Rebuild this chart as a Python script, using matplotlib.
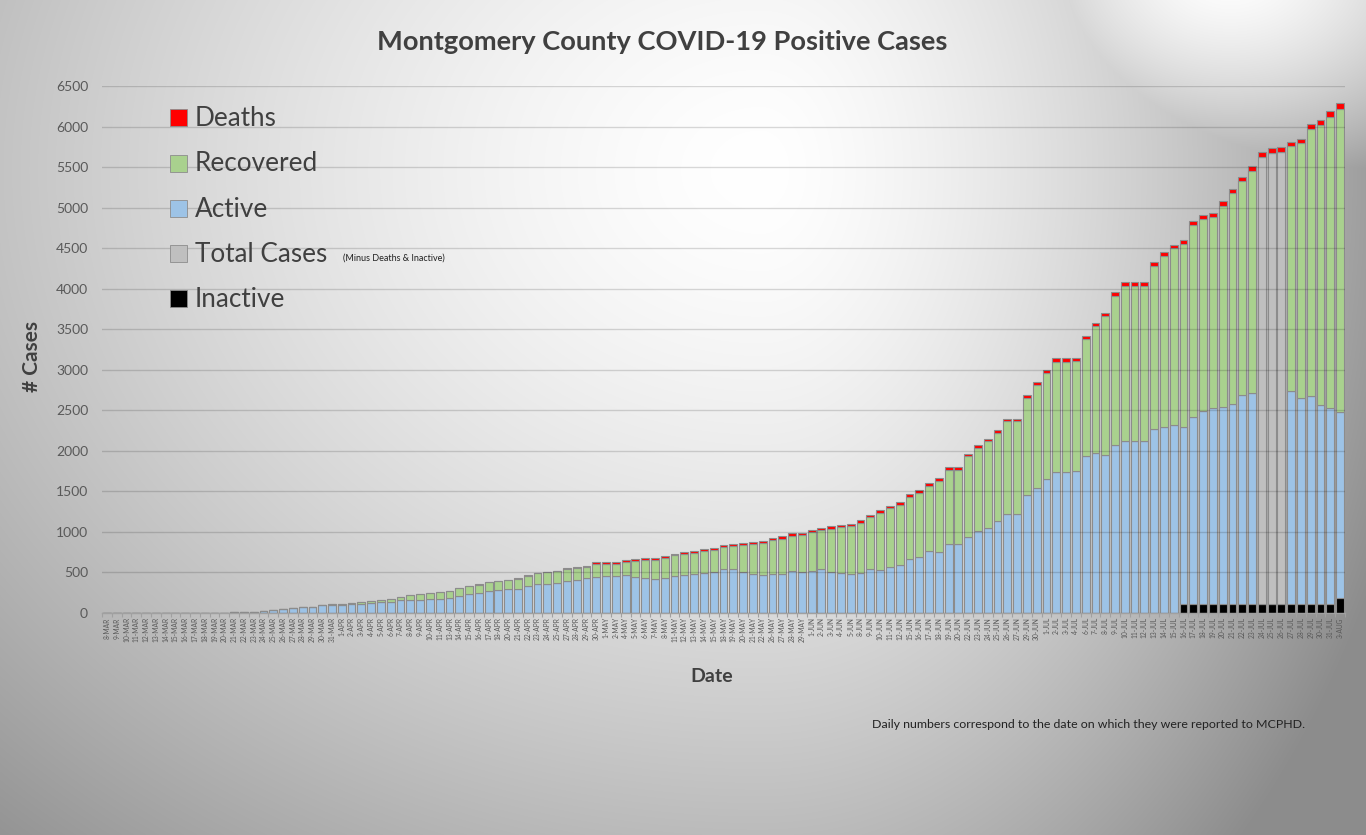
import numpy as np
import matplotlib
matplotlib.use("Agg")
import matplotlib.pyplot as plt
from matplotlib.patches import Rectangle

plt.rcParams['font.family'] = ['Lato', 'DejaVu Sans']

# ---------------- data ----------------
dates = [
    "8-MAR", "9-MAR", "10-MAR", "11-MAR", "12-MAR", "13-MAR", "14-MAR", "15-MAR", "16-MAR", "17-MAR",
    "18-MAR", "19-MAR", "20-MAR", "21-MAR", "22-MAR", "23-MAR", "24-MAR", "25-MAR", "26-MAR", "27-MAR",
    "28-MAR", "29-MAR", "30-MAR", "31-MAR",
    "1-APR", "2-APR", "3-APR", "4-APR", "5-APR", "6-APR", "7-APR", "8-APR", "9-APR", "10-APR", "11-APR",
    "13-APR", "14-APR", "15-APR", "16-APR", "17-APR", "18-APR",
    "20-APR", "21-APR", "22-APR", "23-APR", "24-APR", "25-APR",
    "27-APR", "28-APR", "29-APR", "30-APR",
    "1-MAY", "2-MAY", "4-MAY", "5-MAY", "6-MAY", "7-MAY", "8-MAY",
    "11-MAY", "12-MAY", "13-MAY", "14-MAY", "15-MAY",
    "18-MAY", "19-MAY", "20-MAY", "21-MAY", "22-MAY",
    "26-MAY", "27-MAY", "28-MAY", "29-MAY",
    "1-JUN", "2-JUN", "3-JUN", "4-JUN", "5-JUN",
    "8-JUN", "9-JUN", "10-JUN", "11-JUN", "12-JUN",
    "15-JUN", "16-JUN", "17-JUN", "18-JUN", "19-JUN", "20-JUN",
    "22-JUN", "23-JUN", "24-JUN", "25-JUN", "26-JUN", "27-JUN",
    "29-JUN", "30-JUN",
    "1-JUL", "2-JUL", "3-JUL", "4-JUL",
    "6-JUL", "7-JUL", "8-JUL", "9-JUL", "10-JUL", "11-JUL", "12-JUL", "13-JUL", "14-JUL", "15-JUL",
    "16-JUL", "17-JUL", "18-JUL", "19-JUL", "20-JUL", "21-JUL", "22-JUL", "23-JUL", "24-JUL", "25-JUL",
    "26-JUL", "27-JUL", "28-JUL", "29-JUL", "30-JUL", "31-JUL",
    "3-AUG",
]

inactive = [0] * 110 + [110] * 16 + [180]

active = (
    [0] * 10
    + [2, 3, 4, 12, 14, 17, 30, 40, 52, 64, 80, 78, 95, 100]
    + [95, 111, 111, 123, 132, 140, 156, 156, 156, 169, 169, 185, 206, 230, 243, 267, 280,
       296, 296, 329, 354, 354, 366, 391, 407, 428, 449]
    + [457, 457, 465, 444, 428, 416, 428, 453, 473, 481, 490, 502, 539, 539, 506, 477, 465,
       477, 481, 514, 506]
    + [514, 539, 502, 494, 481, 494, 539, 527, 564, 588, 667, 691, 761, 749, 852, 852, 934,
       1008, 1045, 1132, 1222, 1222, 1453, 1547, 1654]
    + [1741, 1741, 1749, 1940, 1974, 1953, 2074, 2119, 2119, 2119, 2274, 2294, 2319]
    + [2184, 2305, 2380, 2413, 2426, 2468, 2584, 2601]
    + [0, 0, 0]
    + [2634, 2547, 2572, 2455, 2413, 2302]
)

total_cases = [0] * 118 + [5511, 5561, 5582] + [0] * 6

recovered = (
    [0] * 22
    + [3, 12]
    + [20, 12, 25, 25, 28, 33, 40, 60, 77, 76, 88, 88, 100, 100, 108, 112, 111, 111, 128,
       131, 134, 146, 146, 154, 154, 145, 160]
    + [148, 148, 165, 202, 226, 242, 251, 259, 255, 260, 280, 276, 276, 292, 333, 371, 395,
       420, 437, 441, 453]
    + [486, 482, 539, 568, 593, 621, 642, 712, 728, 749, 769, 795, 811, 881, 913, 913, 1000,
       1029, 1074, 1086, 1140, 1140, 1201, 1264, 1305]
    + [1357, 1357, 1357, 1441, 1561, 1707, 1836, 1920, 1920, 1920, 2002, 2107, 2178]
    + [2261, 2374, 2374, 2366, 2490, 2602, 2636, 2740]
    + [0, 0, 0]
    + [3015, 3135, 3285, 3448, 3598, 3731]
)

deaths = (
    [0] * 30
    + [2, 2, 2, 2, 2, 3, 3, 3, 4, 5, 5, 6, 6, 8, 8, 9, 9, 10, 11, 12, 14]
    + [20, 20, 20, 21, 21, 21, 21, 20, 21, 20, 20, 20, 20, 21, 25, 24, 25, 25, 28, 33, 29]
    + [29, 28, 29, 28, 29, 29, 33, 28, 33, 29, 29, 28, 33, 32, 33, 33, 33, 33, 29, 33, 33,
       33, 33, 32, 37]
    + [42, 42, 38, 38, 42, 42, 46, 42, 42, 42, 55, 50, 46]
    + [50, 50, 50, 45, 58, 50, 50, 62]
    + [67, 59, 54]
    + [54, 54, 67, 62, 75, 79]
)

legend_labels = ["Deaths", "Recovered", "Active", "Total Cases", "Inactive"]
legend_colors = ["#FF0000", "#A9D18E", "#9DC3E6", "#BFBFBF", "#000000"]

# ---------------- figure ----------------
W, H = 1366, 835
fig = plt.figure(figsize=(W / 100, H / 100), dpi=100)

# background gradient
bg = fig.add_axes([0, 0, 1, 1], zorder=-10)
yy, xx = np.mgrid[0:H, 0:W]
cx, cy = 760.0, 170.0
sx = np.where(xx < cx, 900.0, 520.0)
sy = 720.0
r = np.sqrt(((xx - cx) / sx) ** 2 + ((yy - cy) / sy) ** 2)
v1 = 1.0 - 0.30 * np.clip(r, 0, 1.6) ** 1.5
r2 = np.sqrt(((xx - 1230.0) / 260.0) ** 2 + ((yy + 30.0) / 190.0) ** 2)
v2 = 1.0 - 0.30 * np.clip(r2, 0, 1.6) ** 1.5
v = np.clip(np.maximum(v1, v2), 0.55, 1.0)
bg.imshow(np.dstack([v, v, v]), aspect='auto', extent=[0, W, H, 0], interpolation='bilinear')
bg.set_xlim(0, W)
bg.set_ylim(H, 0)
bg.axis('off')

ax = fig.add_axes([102 / W, 1 - 613 / H, (1345 - 102) / W, (613 - 86) / H])
ax.patch.set_alpha(0)

x = np.arange(len(dates))
ia = np.array(inactive, float)
ac = np.array(active, float)
tc = np.array(total_cases, float)
rc = np.array(recovered, float)
de = np.array(deaths, float)

edge = "#8c8c8c"
bw = 0.8
lw = 0.8
ax.bar(x, ia, width=bw, color="#000000", edgecolor=edge, linewidth=lw, zorder=2)
ax.bar(x, ac, bottom=ia, width=bw, color="#9DC3E6", edgecolor=edge, linewidth=lw, zorder=2)
ax.bar(x, tc, bottom=ia + ac, width=bw, color="#BFBFBF", edgecolor=edge, linewidth=lw, zorder=2)
ax.bar(x, rc, bottom=ia + ac + tc, width=bw, color="#A9D18E", edgecolor=edge, linewidth=lw, zorder=2)
ax.bar(x, de, bottom=ia + ac + tc + rc, width=bw, color="#FF0000", edgecolor=edge, linewidth=lw, zorder=2)

ax.set_xlim(-0.5, len(dates) - 0.5)
ax.set_ylim(0, 6500)
ax.set_yticks(np.arange(0, 6501, 500))
ax.yaxis.grid(True, color="black", alpha=0.15, linewidth=1.0, zorder=3)
ax.set_axisbelow(False)

for s in ["left", "right", "top"]:
    ax.spines[s].set_visible(False)
ax.spines["bottom"].set_color("#a0a0a0")
ax.spines["bottom"].set_linewidth(1.0)

ax.tick_params(axis="y", length=0, labelsize=10, labelcolor="#595959", pad=10)
ax.set_xticks(x)
ax.set_xticklabels(dates, rotation=90, fontsize=4.8, color="#595959")
ax.tick_params(axis="x", which="major", length=0, pad=3)
ax.set_xticks(np.arange(-0.5, len(dates), 1), minor=True)
ax.tick_params(axis="x", which="minor", length=3, color="#a0a0a0", width=0.8)

# texts
fig.text(662 / W, 1 - 42 / H, "Montgomery County COVID-19 Positive Cases", ha="center", va="center",
         fontsize=19.6, fontweight="bold", color="#404040")
fig.text(712 / W, 1 - 677 / H, "Date", ha="center", va="center", fontsize=14,
         fontweight="bold", color="#404040")
fig.text(32 / W, 1 - 357 / H, "# Cases", ha="center", va="center", rotation=90, fontsize=15,
         fontweight="bold", color="#404040")
fig.text(872 / W, 1 - 724 / H, "Daily numbers correspond to the date on which they were reported to MCPHD.",
         ha="left", va="center", fontsize=8.9, color="#222222")

# legend (manual)
leg_y = [117.5, 163, 208.5, 253.5, 298.5]
for lab, col, yc in zip(legend_labels, legend_colors, leg_y):
    fig.add_artist(Rectangle((170 / W, 1 - (yc + 8.5) / H), 17 / W, 17 / H,
                             transform=fig.transFigure, facecolor=col, edgecolor="#8c8c8c",
                             linewidth=0.6))
    fig.text(195 / W, 1 - (yc + 8.3) / H, lab, ha="left", va="baseline", fontsize=18.8,
             color="#404040")
fig.text(343 / W, 1 - 258 / H, "(Minus Deaths & Inactive)", ha="left", va="center",
         fontsize=6.5, color="#222222")

fig.savefig("out.png", dpi=100)
